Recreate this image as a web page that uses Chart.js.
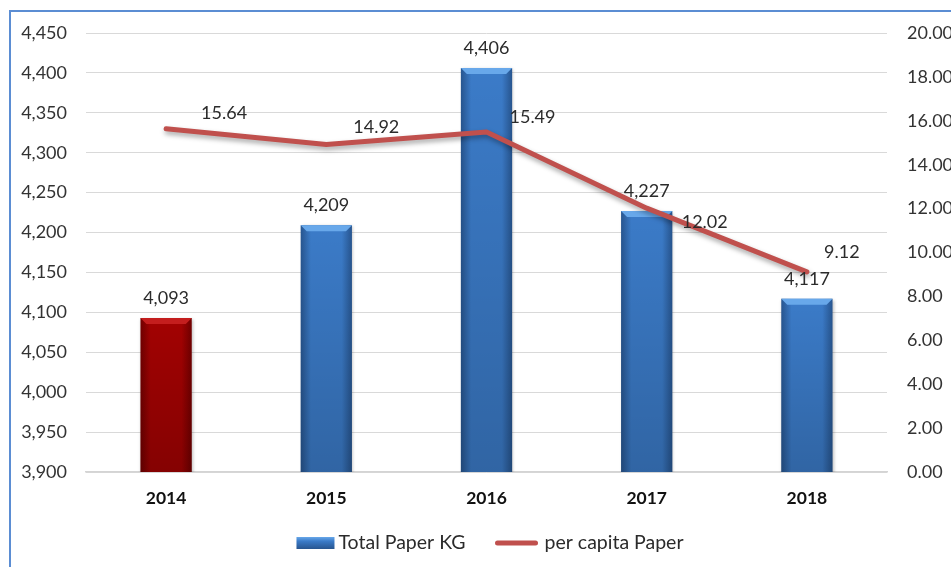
<!DOCTYPE html>
<html>
<head>
<meta charset="utf-8">
<script src="https://cdn.jsdelivr.net/npm/chart.js"></script>
<style>
html, body {
  margin: 0;
  padding: 0;
  background: #ffffff;
}
canvas {
  display: block;
}
</style>
</head>
<body>

<canvas id="paperChart" width="951" height="567"></canvas>

<script>

// ==========================
// data
// ==========================

const years = ["2014", "2015", "2016", "2017", "2018"];
const totalPaperKg = [4093, 4209, 4406, 4227, 4117];
const perCapitaPaper = [15.64, 14.92, 15.49, 12.02, 9.12];

const kgAxisMin = 3900;
const kgAxisMax = 4450;
const kgAxisStep = 50;

const perCapitaAxisMin = 0;
const perCapitaAxisMax = 20;
const perCapitaAxisStep = 2;


// ==========================
// styles
// ==========================

const FONT = "Lato, 'Open Sans', sans-serif";
const BAR_RATIO = 0.32;

const BLUE = { edge: "#27558f", mid: "#3b7bc8", bevel: "#68a8ea" };
const RED = { edge: "#700000", mid: "#a20202", bevel: "#c41e1e" };

const LINE_COLOR = "#c0504d";
const TEXT_COLOR = "#2b2b2b";

// label position next to each per capita point (dx, dy)
const lineLabelOffsets = [
  [58, -16],
  [50, -17],
  [46, -15],
  [58, 14],
  [35, -20]
];

function paletteFor(i) {
  return i === 0 ? RED : BLUE;
}

function formatKg(v) {
  return Number(v).toLocaleString("en-US");
}


// ==========================
// bar fill (side shading)
// ==========================

function barFill(ctx) {

  const chart = ctx.chart;
  const i = ctx.dataIndex;
  const pal = paletteFor(i);

  if (i === undefined || !chart.scales || !chart.scales.x) return pal.mid;

  const xs = chart.scales.x;
  const cx = xs.getPixelForValue(i);
  const w = (xs.width / years.length) * BAR_RATIO;

  if (!isFinite(cx) || !w) return pal.mid;

  const g = chart.ctx.createLinearGradient(cx - w / 2, 0, cx + w / 2, 0);
  g.addColorStop(0, pal.edge);
  g.addColorStop(0.2, pal.mid);
  g.addColorStop(0.5, pal.mid);
  g.addColorStop(0.8, pal.mid);
  g.addColorStop(1, pal.edge);

  return g;

}


// ==========================
// plugin: frame, shadows, bevels, labels, legend
// ==========================

const decorPlugin = {

  id: "decor",

  beforeDatasetDraw(chart, args) {

    const ctx = chart.ctx;
    ctx.save();

    if (args.meta.type === "line") {
      ctx.shadowColor = "rgba(0,0,0,0.35)";
      ctx.shadowBlur = 5;
      ctx.shadowOffsetX = 1;
      ctx.shadowOffsetY = 3;
    } else {
      ctx.shadowColor = "rgba(0,0,0,0.25)";
      ctx.shadowBlur = 3;
      ctx.shadowOffsetX = 1;
      ctx.shadowOffsetY = 1;
    }

  },

  afterDatasetDraw(chart, args) {

    const ctx = chart.ctx;
    ctx.restore();

    if (args.meta.type !== "bar") return;

    const bottom = chart.chartArea.bottom;

    // top bevel of each bar
    args.meta.data.forEach((bar, i) => {

      const pal = paletteFor(i);
      const half = bar.width / 2;
      const left = bar.x - half;
      const right = bar.x + half;
      const top = bar.y;
      const depth = 6;

      ctx.save();

      ctx.fillStyle = pal.bevel;
      ctx.beginPath();
      ctx.moveTo(left, top);
      ctx.lineTo(right, top);
      ctx.lineTo(right - depth, top + depth);
      ctx.lineTo(left + depth, top + depth);
      ctx.closePath();
      ctx.fill();

      // soft darkening toward the foot of the bar
      const v = ctx.createLinearGradient(0, top, 0, bottom);
      v.addColorStop(0, "rgba(0,0,0,0)");
      v.addColorStop(1, "rgba(0,0,0,0.18)");
      ctx.fillStyle = v;
      ctx.fillRect(left, top + depth, bar.width, bottom - top - depth);

      ctx.restore();

    });

  },

  afterDatasetsDraw(chart) {

    const ctx = chart.ctx;

    ctx.save();
    ctx.font = "18px " + FONT;
    ctx.fillStyle = TEXT_COLOR;
    ctx.textAlign = "center";
    ctx.textBaseline = "middle";

    chart.getDatasetMeta(0).data.forEach((bar, i) => {
      ctx.fillText(formatKg(totalPaperKg[i]), bar.x, bar.y - 20);
    });

    chart.getDatasetMeta(1).data.forEach((pt, i) => {
      const off = lineLabelOffsets[i];
      ctx.fillText(perCapitaPaper[i].toFixed(2), pt.x + off[0], pt.y + off[1]);
    });

    ctx.restore();

  },

  afterDraw(chart) {

    const ctx = chart.ctx;

    // outer frame
    ctx.save();
    ctx.strokeStyle = "#5b8dd3";
    ctx.lineWidth = 2;
    ctx.strokeRect(10, 11, 1200, 1200);
    ctx.restore();

    // legend
    ctx.save();
    ctx.font = "19.5px " + FONT;
    ctx.textBaseline = "middle";
    ctx.textAlign = "left";

    const labelA = chart.data.datasets[0].label;
    const labelB = chart.data.datasets[1].label;

    const swA = 38, swB = 42, gapText = 4, gapItems = 30;
    const wA = ctx.measureText(labelA).width;
    const wB = ctx.measureText(labelB).width;
    const total = swA + gapText + wA + gapItems + swB + gapText + 3 + wB;

    const cy = 543;
    let x = 490 - total / 2;

    // bar swatch
    const g = ctx.createLinearGradient(0, cy - 6, 0, cy + 6);
    g.addColorStop(0, BLUE.bevel);
    g.addColorStop(0.35, BLUE.mid);
    g.addColorStop(1, BLUE.edge);
    ctx.fillStyle = g;
    ctx.fillRect(x, cy - 6, swA, 12);

    x += swA + gapText;
    ctx.fillStyle = TEXT_COLOR;
    ctx.fillText(labelA, x, cy);

    x += wA + gapItems;

    // line swatch
    ctx.strokeStyle = LINE_COLOR;
    ctx.lineWidth = 5;
    ctx.lineCap = "round";
    ctx.beginPath();
    ctx.moveTo(x + 2, cy);
    ctx.lineTo(x + swB - 2, cy);
    ctx.stroke();

    x += swB + gapText + 3;
    ctx.fillText(labelB, x, cy);

    ctx.restore();

  }

};


// ==========================
// chart
// ==========================

Chart.defaults.font.family = FONT;
Chart.defaults.font.size = 18;
Chart.defaults.color = "#333333";

new Chart(document.getElementById("paperChart"), {

  type: "bar",

  data: {
    labels: years,
    datasets: [
      {
        label: "Total Paper KG",
        data: totalPaperKg,
        yAxisID: "yKg",
        backgroundColor: barFill,
        borderWidth: 0,
        barPercentage: 0.8,
        categoryPercentage: BAR_RATIO / 0.8,
        order: 1
      },
      {
        type: "line",
        label: "per capita Paper",
        data: perCapitaPaper,
        yAxisID: "yPerCapita",
        borderColor: LINE_COLOR,
        backgroundColor: LINE_COLOR,
        borderWidth: 5,
        borderCapStyle: "round",
        borderJoinStyle: "round",
        pointRadius: 0,
        tension: 0,
        fill: false,
        order: 0
      }
    ]
  },

  options: {
    responsive: false,
    animation: false,
    layout: {
      padding: { top: 33, bottom: 0, left: 0, right: 0 }
    },
    plugins: {
      legend: { display: false },
      tooltip: { enabled: false }
    },
    scales: {
      x: {
        offset: true,
        grid: { display: false, drawTicks: false },
        border: { display: true, color: "#d4d4d4", width: 1.5 },
        ticks: {
          padding: 16,
          color: "#111111",
          font: { size: 17.5, weight: "bold" }
        },
        afterFit(scale) { scale.height = 95; }
      },
      yKg: {
        position: "left",
        min: kgAxisMin,
        max: kgAxisMax,
        grid: { color: "#d9d9d9", lineWidth: 1, drawTicks: false },
        border: { display: false },
        ticks: {
          stepSize: kgAxisStep,
          padding: 19,
          callback: v => formatKg(v)
        },
        afterFit(scale) { scale.width = 86; }
      },
      yPerCapita: {
        position: "right",
        min: perCapitaAxisMin,
        max: perCapitaAxisMax,
        grid: { display: false, drawTicks: false },
        border: { display: false },
        ticks: {
          stepSize: perCapitaAxisStep,
          padding: 20,
          callback: v => Number(v).toFixed(2)
        },
        afterFit(scale) { scale.width = 64; }
      }
    }
  },

  plugins: [decorPlugin]

});

</script>

</body>
</html>
